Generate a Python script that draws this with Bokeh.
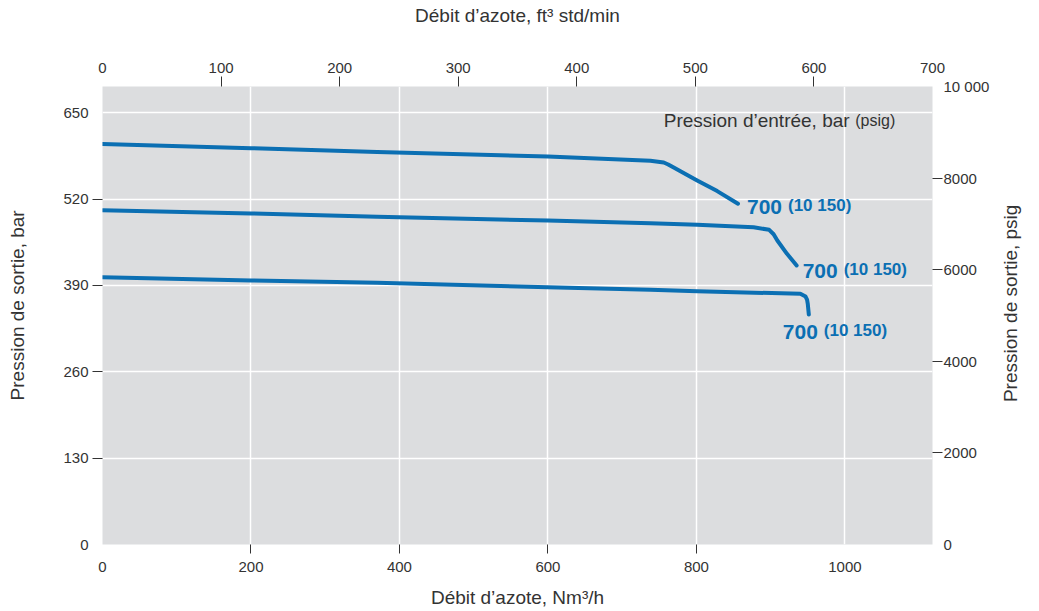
import math
from bokeh.plotting import figure
from bokeh.models import Range1d, LinearAxis, FixedTicker, ColumnDataSource, Label
from bokeh.embed import file_html
from bokeh.resources import INLINE
from bokeh.core.properties import value

# Outlet pressure versus nitrogen flow, three curves at 700 bar inlet pressure
flow_a = [0, 200, 370, 600, 738, 756, 762, 770, 801, 828, 856]
outlet_a = [603, 596.6, 591, 584, 577.6, 575, 572, 567, 548, 532, 513]

flow_b = [0, 200, 370, 600, 738, 801, 877, 898, 904, 909, 922, 935]
outlet_b = [503, 498.3, 493.5, 487.7, 483.7, 481.3, 477.6, 473.7, 467, 457.6, 437.6, 420]

flow_c = [0, 200, 370, 600, 738, 801, 940, 947, 949, 950, 951.4]
outlet_c = [402.4, 397.4, 393.9, 387.3, 383.4, 381.3, 377.4, 373.3, 368.8, 362.3, 346.2]

inlet_bar = [700, 700, 700]
inlet_psig = [10150, 10150, 10150]

bar_ticks = [0, 130, 260, 390, 520, 650]
psig_ticks = [0, 2000, 4000, 6000, 8000, 10000]
nm3h_ticks = [0, 200, 400, 600, 800, 1000]
scfm_ticks = [0, 100, 200, 300, 400, 500, 600, 700]

PSI_PER_BAR = 14.5038
PSIG_MAX = 10000
BAR_MAX = PSIG_MAX / PSI_PER_BAR
NM3H_MAX = 1118
SCFM_MAX = 700

FONT = "Liberation Sans"
INK = "#333333"
BLUE = "#0b6fb3"
PANEL = "#dcdddf"

p = figure(width=1039, height=611, output_backend="svg", toolbar_location=None,
           x_range=Range1d(0, NM3H_MAX), y_range=Range1d(0, BAR_MAX))
p.extra_x_ranges = {"scfm": Range1d(0, SCFM_MAX)}
p.extra_y_ranges = {"psig": Range1d(0, PSIG_MAX)}

p.min_border_left = 102
p.min_border_right = 107
p.min_border_top = 86
p.min_border_bottom = 67
p.background_fill_color = PANEL
p.border_fill_color = "white"
p.outline_line_color = None


def style_axis(ax, ticks, tick_len, standoff, overrides=None):
    # labels on every tick, tick marks only on the inner ones
    ax.ticker = FixedTicker(ticks=ticks, minor_ticks=ticks[1:-1])
    ax.major_tick_out = 0
    ax.major_tick_in = 0
    ax.minor_tick_out = tick_len
    ax.minor_tick_in = 0
    ax.minor_tick_line_color = INK
    ax.minor_tick_line_width = 1
    ax.axis_line_color = None
    ax.major_label_standoff = standoff
    ax.major_label_text_font = FONT
    ax.major_label_text_font_size = "15px"
    ax.major_label_text_color = INK
    ax.axis_label_text_font = FONT
    ax.axis_label_text_font_size = "19px"
    ax.axis_label_text_font_style = "normal"
    ax.axis_label_text_color = INK
    if overrides:
        ax.major_label_overrides = overrides


xb = p.xaxis[0]
style_axis(xb, nm3h_ticks, 9, 8)
xb.axis_label = "Débit d’azote, Nm³/h"
xb.axis_label_standoff = 12

yl = p.yaxis[0]
style_axis(yl, bar_ticks, 10, 4)

xt = LinearAxis(x_range_name="scfm")
style_axis(xt, scfm_ticks, 10, 4)
xt.axis_label = "Débit d’azote, ft³ std/min"
xt.axis_label_standoff = 34
p.add_layout(xt, "above")

yr = LinearAxis(y_range_name="psig")
style_axis(yr, psig_ticks, 10, 1, overrides={10000: "10 000"})
p.add_layout(yr, "right")

# vertical titles, both reading bottom-to-top, kept in the side panels
p.add_layout(Label(x=-22, x_units="screen", y=360, text="Pression de sortie, bar",
                   angle=90, angle_units="deg", text_align="center", text_baseline="middle",
                   text_font=FONT, text_font_size="19px", text_color=INK), "left")
p.add_layout(Label(x=18, x_units="screen", y=363, text="Pression de sortie, psig",
                   angle=90, angle_units="deg", text_align="center", text_baseline="middle",
                   text_font=FONT, text_font_size="19px", text_color=INK), "right")

p.xgrid.ticker = FixedTicker(ticks=nm3h_ticks[1:])
p.ygrid.ticker = FixedTicker(ticks=bar_ticks[1:])
for g in (p.xgrid, p.ygrid):
    g.grid_line_color = "white"
    g.grid_line_width = 1.5

# curve legend heading
p.add_layout(Label(x=756, y=638, text="Pression d’entrée, bar", text_align="left",
                   text_baseline="alphabetic", text_font=FONT, text_font_size="19px",
                   text_color=INK))
p.add_layout(Label(x=1014, y=638, text="(psig)", text_align="left",
                   text_baseline="alphabetic", text_font=FONT, text_font_size="16px",
                   text_color=INK))

flows = [flow_a, flow_b, flow_c]
outlets = [outlet_a, outlet_b, outlet_c]
for fx, oy in zip(flows, outlets):
    p.line(fx, oy, line_color=BLUE, line_width=4, line_cap="round", line_join="round")


def spaced(n):
    return f"{n:,}".replace(",", " ")


ends = ColumnDataSource(dict(
    x=[f[-1] for f in flows],
    y=[o[-1] for o in outlets],
    big=[str(v) for v in inlet_bar],
    small=[f"({spaced(v)})" for v in inlet_psig],
    dx=[9, 6, -26],
    dy=[3, 5, 17],
    dx2=[50, 47, 15],
    dy2=[1.5, 3.5, 15.5],
))
p.text(x="x", y="y", text="big", x_offset="dx", y_offset="dy", source=ends,
       text_font=value(FONT), text_font_size="21px", text_font_style="bold",
       text_color=BLUE, text_align="left", text_baseline="alphabetic")
p.text(x="x", y="y", text="small", x_offset="dx2", y_offset="dy2", source=ends,
       text_font=value(FONT), text_font_size="17px", text_font_style="bold",
       text_color=BLUE, text_align="left", text_baseline="alphabetic")

open("out.html", "w").write(file_html(p, INLINE))
